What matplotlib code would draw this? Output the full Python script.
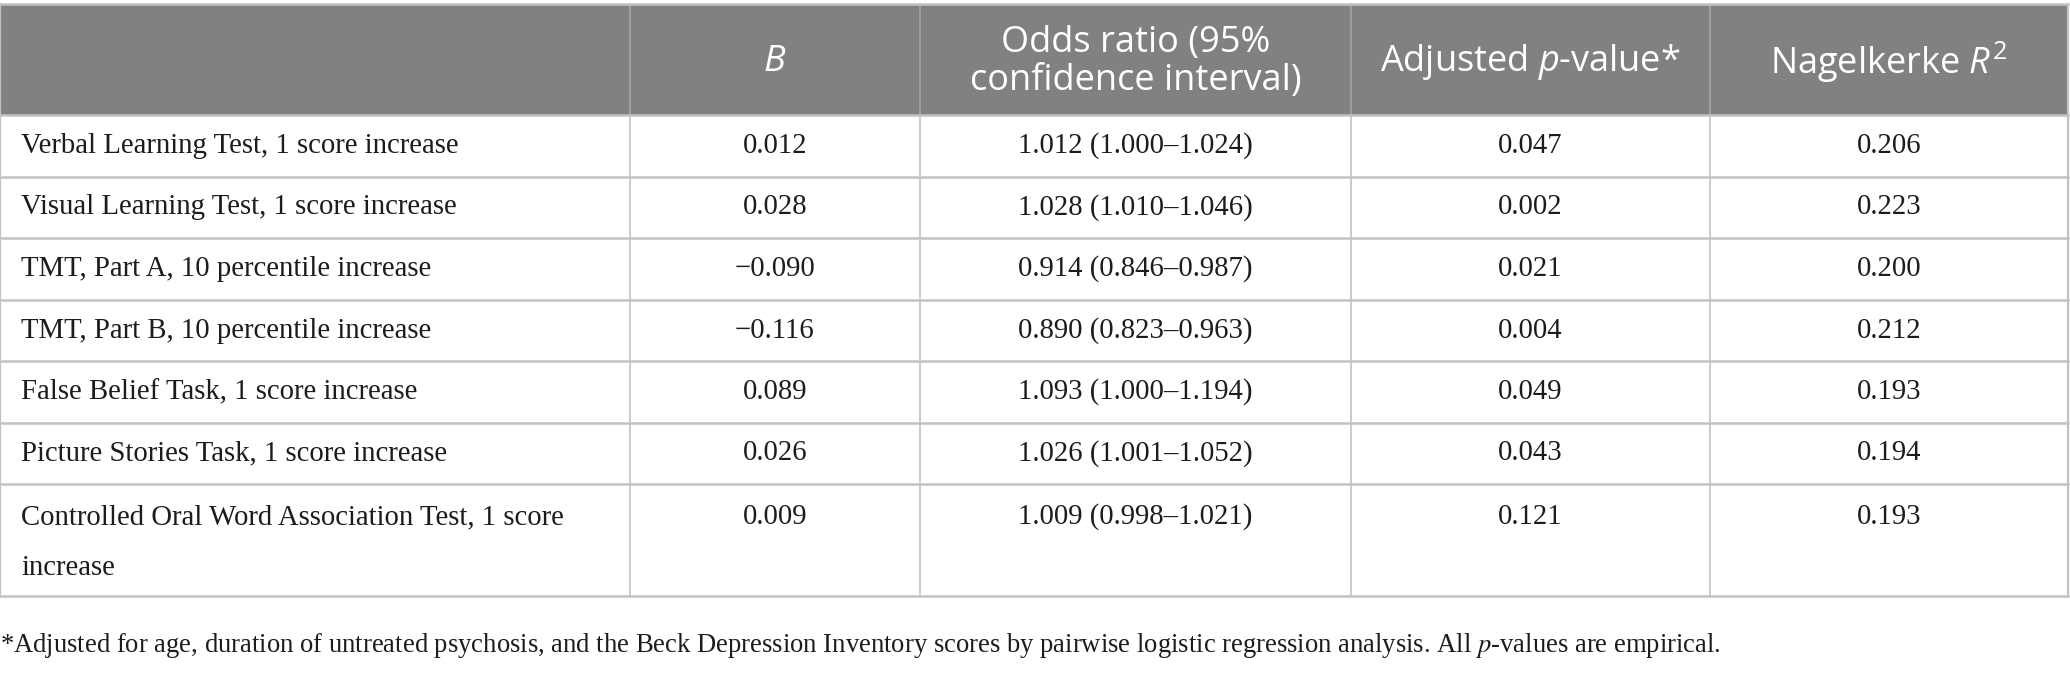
import matplotlib
matplotlib.use('Agg')
import matplotlib.pyplot as plt
from matplotlib.patches import Rectangle

# table content
headers = ['', '$B$', 'Odds ratio (95%\nconfidence interval)', 'Adjusted $p$-value*', 'Nagelkerke $R^2$']
measures = ['Verbal Learning Test, 1 score increase',
            'Visual Learning Test, 1 score increase',
            'TMT, Part A, 10 percentile increase',
            'TMT, Part B, 10 percentile increase',
            'False Belief Task, 1 score increase',
            'Picture Stories Task, 1 score increase',
            'Controlled Oral Word Association Test, 1 score\nincrease']
b_vals = ['0.012', '0.028', '\u22120.090', '\u22120.116', '0.089', '0.026', '0.009']
odds = ['1.012 (1.000\u20131.024)', '1.028 (1.010\u20131.046)', '0.914 (0.846\u20130.987)',
        '0.890 (0.823\u20130.963)', '1.093 (1.000\u20131.194)', '1.026 (1.001\u20131.052)',
        '1.009 (0.998\u20131.021)']
p_vals = ['0.047', '0.002', '0.021', '0.004', '0.049', '0.043', '0.121']
r2_vals = ['0.206', '0.223', '0.200', '0.212', '0.193', '0.194', '0.193']
footnote = ('*Adjusted for age, duration of untreated psychosis, and the Beck Depression Inventory '
            'scores by pairwise logistic regression analysis. All $p$-values are empirical.')

plt.rcParams['mathtext.fontset'] = 'custom'
plt.rcParams['mathtext.rm'] = 'Open Sans'
plt.rcParams['mathtext.it'] = 'Open Sans:italic'

W, H = 2070, 675
fig = plt.figure(figsize=(W / 100, H / 100), dpi=100)
ax = fig.add_axes([0, 0, 1, 1])
ax.set_xlim(0, W)
ax.set_ylim(H, 0)
ax.axis('off')

col_x = [0, 630, 920, 1351, 1710, 2068]
row_y = [4, 115, 177, 238, 300, 361, 423, 484, 596]
grid = '#c2c2c2'
head_bg = '#808180'
ink = '#1c1c1c'

# header band
ax.add_patch(Rectangle((col_x[0], row_y[0]), col_x[-1] - col_x[0], row_y[1] - row_y[0],
                       facecolor=head_bg, edgecolor='none'))
for x in col_x[1:-1]:
    ax.plot([x, x], [row_y[0], row_y[1]], color='#a3a3a3', lw=1.2)
    ax.plot([x, x], [row_y[1], row_y[-1]], color=grid, lw=1.2)
for x in (col_x[0], col_x[-1]):
    ax.plot([x, x], [row_y[0], row_y[-1]], color=grid, lw=1.6)
for y in row_y:
    ax.plot([col_x[0], col_x[-1]], [y, y], color=grid, lw=1.8)

head_mid = (row_y[0] + row_y[1]) / 2 + 2.5
for i, h in enumerate(headers):
    if not h:
        continue
    cx = (col_x[i] + col_x[i + 1]) / 2
    ax.text(cx, head_mid, h, ha='center', va='center', color='white',
            fontsize=26, family='Open Sans', linespacing=1.1, math_fontfamily='custom')

serif = 'Liberation Serif'
fs = 20.7
for r in range(len(measures)):
    y0, y1 = row_y[r + 1], row_y[r + 2]
    lines = measures[r].split('\n')
    yc = y0 + 33 if len(lines) > 1 else (y0 + y1) / 2
    for k, line in enumerate(lines):
        ax.text(21, yc + 51 * k, line, ha='left', va='center', fontsize=fs, family=serif, color=ink)
    for c, vals in enumerate([b_vals, odds, p_vals, r2_vals], start=1):
        cx = (col_x[c] + col_x[c + 1]) / 2
        ax.text(cx, yc, vals[r], ha='center', va='center', fontsize=fs, family=serif, color=ink)

ax.text(0, 646, footnote, ha='left', va='center', fontsize=19.2, family=serif,
        color=ink, math_fontfamily='stix')

fig.savefig('out.png', dpi=100)
